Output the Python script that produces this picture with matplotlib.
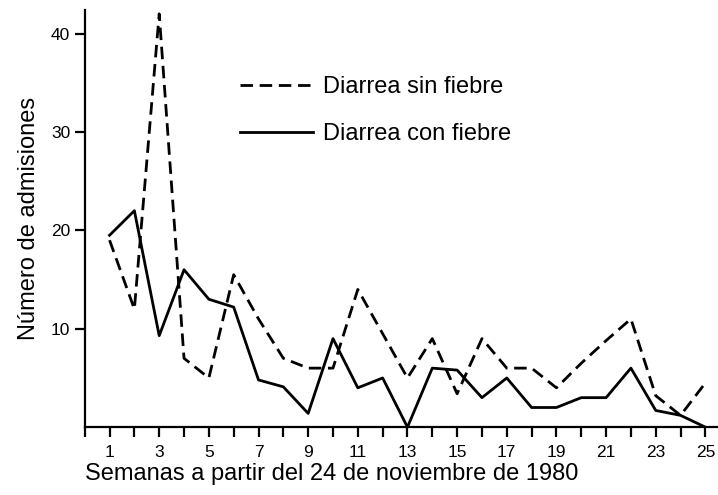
import numpy as np
import matplotlib
matplotlib.use('Agg')
import matplotlib.pyplot as plt
from matplotlib.ticker import MultipleLocator

plt.rcParams['font.family'] = ['Liberation Sans', 'DejaVu Sans']

semanas = np.arange(1, 26)
sin_fiebre = [19, 12, 42, 7, 5, 15.5, 11, 7, 6, 6, 14, 9.5, 5, 9, 3.4,
              9, 6, 6, 4, 6.5, 8.8, 11, 3.2, 1.2, 4.5]
con_fiebre = [19.5, 22, 9.3, 16, 13, 12.2, 4.8, 4.1, 1.4, 9, 4, 5, 0, 6,
              5.8, 3, 5, 2, 2, 3, 3, 6, 1.7, 1.2, 0]
xticks = list(range(1, 26, 2))
yticks = [10, 20, 30, 40]

fig = plt.figure(figsize=(7.18, 4.95), dpi=100)
ax = fig.add_axes([0.118, 0.137, 0.88, 0.843])

ax.plot(semanas, sin_fiebre, color='black', lw=2.0, ls='--', dashes=(4.5, 2.4),
        label='Diarrea sin fiebre')
ax.plot(semanas, con_fiebre, color='black', lw=2.0, label='Diarrea con fiebre')

ax.set_xlim(0, 25.45)
ax.set_ylim(0, 42.4)
ax.set_xticks(xticks)
ax.xaxis.set_minor_locator(MultipleLocator(1))
ax.set_yticks(yticks)
ax.tick_params(axis='both', which='both', direction='out', length=7, width=1.6,
               labelsize=12.5, colors='black')
ax.tick_params(axis='x', pad=6)

for s in ['top', 'right']:
    ax.spines[s].set_visible(False)
for s in ['left', 'bottom']:
    ax.spines[s].set_linewidth(1.6)

ax.set_xlabel('Semanas a partir del 24 de noviembre de 1980', fontsize=17,
              loc='left', labelpad=2)
ax.set_ylabel('Número de admisiones', fontsize=17, labelpad=8)

ax.legend(loc='upper left', bbox_to_anchor=(0.305, 0.889), bbox_transform=fig.transFigure,
          frameon=False, fontsize=17, handlelength=3.1, handletextpad=0.42,
          labelspacing=1.06)

plt.savefig('out.png', dpi=100)
